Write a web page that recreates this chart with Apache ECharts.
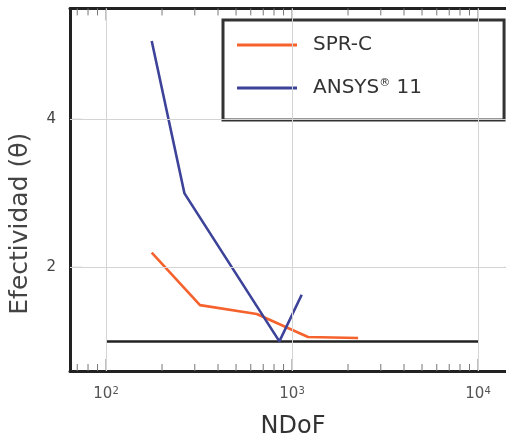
<!DOCTYPE html>
<html><head><meta charset="utf-8">
<script src="https://cdn.jsdelivr.net/npm/echarts@6/dist/echarts.min.js"></script>
<style>html,body{margin:0;padding:0;background:#fff}#c{width:506px;height:436px}</style>
</head><body><div id="c"></div>
<script>
// ---- data ----
const seriesNames = ['SPR-C', 'ANSYS® 11'];
const sprNdof = [176, 320, 646, 1219, 2265];
const sprTheta = [2.2, 1.49, 1.37, 1.06, 1.045];
const ansysNdof = [176, 264, 855, 1127];
const ansysTheta = [5.06, 3.0, 1.0, 1.63];
const refNdof = [100, 10000];
const refTheta = [1, 1];
const xMajorTicks = [100, 1000, 10000];
const xMinorTicks = [70, 80, 90, 200, 300, 400, 500, 600, 700, 800, 900,
                     2000, 3000, 4000, 5000, 6000, 7000, 8000, 9000];
const yTicks = [2, 4];

const FONT = 'DejaVu Sans, Liberation Sans, sans-serif';
const X_MIN = 64, X_MAX = 16000, Y_MIN = 0.6, Y_MAX = 5.5;

const pairs = (xs, ys) => xs.map((x, i) => [x, ys[i]]);

function isDecade(v) {
  const l = Math.log10(v);
  return Math.abs(l - Math.round(l)) < 1e-6;
}

function xTickItem(params, api) {
  const v = api.value(0);
  const cs = params.coordSys;
  const x = api.coord([v, 1])[0];
  const len = xMajorTicks.indexOf(v) >= 0 ? 12 : 7;
  const yb = cs.y + cs.height, yt = cs.y;
  return { type: 'group', children: [
    { type: 'line', shape: { x1: x, y1: yb, x2: x, y2: yb - len }, style: { stroke: '#777', lineWidth: 1 } },
    { type: 'line', shape: { x1: x, y1: yt, x2: x, y2: yt + len }, style: { stroke: '#777', lineWidth: 1 } }
  ]};
}
function yTickItem(params, api) {
  const cs = params.coordSys;
  const y = api.coord([1000, api.value(1)])[1];
  const xl = cs.x, xr = cs.x + cs.width;
  return { type: 'group', children: [
    { type: 'line', shape: { x1: xl, y1: y, x2: xl + 12, y2: y }, style: { stroke: '#777', lineWidth: 1 } },
    { type: 'line', shape: { x1: xr, y1: y, x2: xr - 12, y2: y }, style: { stroke: '#777', lineWidth: 1 } }
  ]};
}

const chart = echarts.init(document.getElementById('c'));
chart.setOption({
  animation: false,
  backgroundColor: '#fff',
  grid: { left: 70, top: 8.4, width: 446, height: 362.6, outerBoundsMode: 'none', containLabel: false },
  xAxis: [{
    type: 'log', logBase: 10, min: X_MIN, max: X_MAX, position: 'bottom',
    name: 'NDoF', nameLocation: 'middle', nameGap: 44,
    nameTextStyle: { fontFamily: FONT, fontSize: 24, color: '#333' },
    axisLine: { show: true, onZero: false, lineStyle: { color: '#222', width: 3 } },
    axisTick: { show: false }, splitLine: { show: false }, minorTick: { show: false },
    axisLabel: {
      margin: 15, color: '#555', fontFamily: FONT,
      showMinLabel: true, showMaxLabel: true,
      formatter: v => isDecade(v) ? '{b|10}{s|' + Math.round(Math.log10(v)) + '}' : '',
      rich: { b: { fontSize: 15, fontFamily: FONT, color: '#555' },
              s: { fontSize: 10, fontFamily: FONT, color: '#555', verticalAlign: 'top', padding: [0, 0, 6, 0] } }
    }
  }, {
    type: 'log', logBase: 10, min: X_MIN, max: X_MAX, position: 'top',
    axisLine: { show: true, onZero: false, lineStyle: { color: '#222', width: 3 } },
    axisTick: { show: false }, splitLine: { show: false }, axisLabel: { show: false }
  }],
  yAxis: {
    type: 'value', min: Y_MIN, max: Y_MAX, interval: 0.2,
    name: 'Efectividad (θ)', nameLocation: 'middle', nameRotate: 90, nameGap: 37,
    nameTextStyle: { fontFamily: FONT, fontSize: 25, color: '#444', padding: [0, 68, 0, 0] },
    axisLine: { show: true, onZero: false, lineStyle: { color: '#222', width: 3 } },
    axisTick: { show: false }, splitLine: { show: false },
    axisLabel: {
      margin: 14, fontFamily: FONT, fontSize: 15, color: '#444',
      formatter: v => (Math.abs(v - 2) < 1e-9 || Math.abs(v - 4) < 1e-9) ? String(Math.round(v)) : ''
    }
  },
  legend: {
    data: seriesNames, orient: 'vertical', left: 223, top: 20,
    padding: [15, 82, 22, 14], itemGap: 23, itemWidth: 60, itemHeight: 3, icon: 'rect',
    borderColor: '#333', borderWidth: 3, borderRadius: 0, backgroundColor: 'transparent',
    textStyle: {
      fontFamily: FONT, fontSize: 20, color: '#333', padding: [0, 0, 0, 11],
      rich: { n: { fontFamily: FONT, fontSize: 20, color: '#333', lineHeight: 20 },
              s: { fontFamily: FONT, fontSize: 11, color: '#333', verticalAlign: 'top', lineHeight: 20 } }
    },
    formatter: name => name === 'ANSYS® 11' ? '{n|ANSYS}{s|®}{n| 11}' : '{n|' + name + '}'
  },
  series: [
    {
      name: 'grid', type: 'line', data: pairs(refNdof, refTheta), z: 1, silent: true,
      symbol: 'none', lineStyle: { color: '#222', width: 2.5 },
      markLine: {
        silent: true, symbol: 'none', label: { show: false },
        lineStyle: { color: '#d4d4d4', width: 1, type: 'solid' },
        data: xMajorTicks.map(v => ({ xAxis: v })).concat(yTicks.map(v => ({ yAxis: v })))
      }
    },
    {
      name: 'ticksX', type: 'custom', renderItem: xTickItem, silent: true, z: 2,
      data: xMajorTicks.concat(xMinorTicks).map(v => [v, 1])
    },
    {
      name: 'ticksY', type: 'custom', renderItem: yTickItem, silent: true, z: 2,
      data: yTicks.map(v => [1000, v])
    },
    {
      name: 'SPR-C', type: 'line', data: pairs(sprNdof, sprTheta), z: 3,
      symbol: 'none', color: '#f5622d', lineStyle: { color: '#f5622d', width: 2.6 }
    },
    {
      name: 'ANSYS® 11', type: 'line', data: pairs(ansysNdof, ansysTheta), z: 4,
      symbol: 'none', color: '#3d4399', lineStyle: { color: '#3d4399', width: 2.6 }
    }
  ]
});
</script>
</body></html>
